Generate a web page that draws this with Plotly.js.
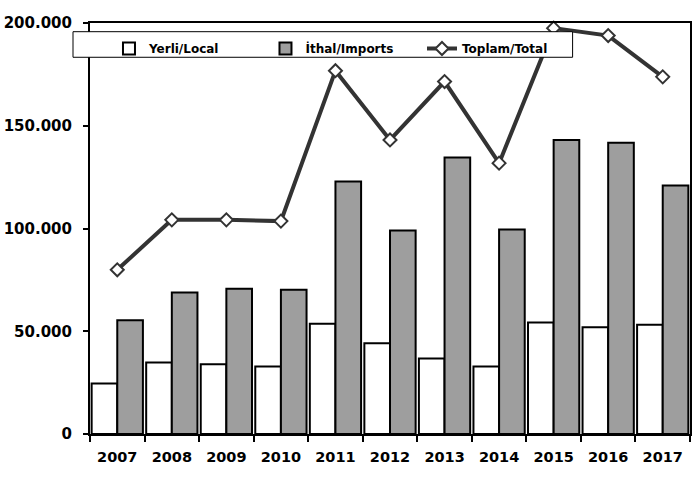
<!DOCTYPE html>
<html>
<head>
<meta charset="utf-8">
<script src="https://cdn.plot.ly/plotly-3.0.1.min.js"></script>
<style>html,body{margin:0;padding:0;background:#fff;}#chart{width:697px;height:477px;}</style>
</head>
<body>
<div id="chart"></div>
<script>
var years = ['2007','2008','2009','2010','2011','2012','2013','2014','2015','2016','2017'];
var yerli = [24600, 34800, 33900, 32900, 53700, 44100, 36800, 32900, 54300, 51900, 53200];
var ithal = [55300, 68900, 70700, 70200, 122900, 99000, 134500, 99500, 143100, 141700, 120900];
var toplam = [79900, 104200, 104200, 103600, 176800, 143100, 171500, 131800, 197500, 193900, 173800];
var yTicks = [0, 50000, 100000, 150000, 200000];

var fontFam = 'Verdana, "DejaVu Sans", sans-serif';
var W = 697, H = 477;
var PL = 90, PW = 600.5, PB = 434.3, PH = 411.3;

var traces = [
  {type:'bar', name:'Yerli/Local', x:years, y:yerli,
   marker:{color:'#ffffff', line:{color:'#000000', width:2}}},
  {type:'bar', name:'İthal/Imports', x:years, y:ithal,
   marker:{color:'#9e9e9e', line:{color:'#000000', width:2}}},
  {type:'scatter', mode:'lines+markers', name:'Toplam/Total', x:years, y:toplam,
   line:{color:'#333333', width:4},
   marker:{symbol:'diamond', size:10, color:'#ffffff', line:{color:'#333333', width:2}},
   cliponaxis:false}
];

var layout = {
  width:W, height:H,
  margin:{l:90, r:7, t:23, b:43},
  paper_bgcolor:'#ffffff', plot_bgcolor:'#ffffff',
  separators:',.',
  font:{family:fontFam, color:'#000000', size:14.5, weight:'bold'},
  barmode:'group', bargap:0.06, bargroupgap:0,
  showlegend:true,
  legend:{orientation:'h', xref:'paper', yref:'paper',
          x:(109-PL)/PW, y:(PB-34)/PH, xanchor:'left', yanchor:'top',
          bgcolor:'rgba(0,0,0,0)', borderwidth:0,
          font:{family:fontFam, size:12, color:'#000000', weight:'bold'},
          entrywidth:111.5, traceorder:'normal'},
  shapes:[{type:'rect', xref:'paper', yref:'paper', layer:'above',
           x0:(73-PL)/PW, x1:(573-PL)/PW,
           y0:(PB-57.3)/PH, y1:(PB-31.7)/PH,
           fillcolor:'#ffffff', line:{color:'#000000', width:1}}],
  xaxis:{type:'category', range:[-0.5, 10.5], showline:true, linecolor:'#000000', linewidth:2, mirror:true,
         ticks:'outside', tickson:'boundaries', ticklen:6, tickwidth:2, tickcolor:'#000000',
         tickfont:{family:fontFam, size:14.5, weight:'bold', color:'#000000'},
         ticklabelstandoff:9,
         showgrid:false, zeroline:false, fixedrange:true},
  yaxis:{range:[0,200000], tickvals:yTicks, tickformat:',d',
         showline:true, linecolor:'#000000', linewidth:2, mirror:true,
         ticks:'outside', ticklen:5, tickwidth:2, tickcolor:'#000000',
         tickfont:{family:fontFam, size:15, weight:'bold', color:'#000000'},
         ticklabelstandoff:8,
         showgrid:false, zeroline:false, fixedrange:true}
};

Plotly.newPlot('chart', traces, layout, {displayModeBar:false, staticPlot:true});
</script>
</body>
</html>
